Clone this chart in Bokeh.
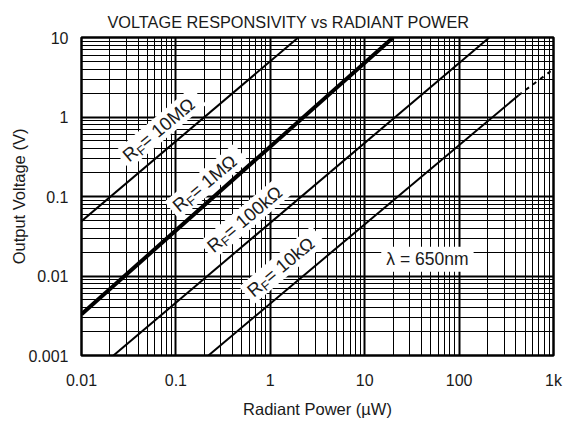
import math
from bokeh.plotting import figure
from bokeh.models import Range1d, FixedTicker, Label
from bokeh.embed import file_html
from bokeh.resources import INLINE

# ---- data ----
x_major = [0.01, 0.1, 1, 10, 100, 1000]
x_labels = ["0.01", "0.1", "1", "10", "100", "1k"]
y_major = [0.001, 0.01, 0.1, 1, 10]
y_labels = ["0.001", "0.01", "0.1", "1", "10"]

rf_names = ["10MΩ", "1MΩ", "100kΩ", "10kΩ"]
p_10M = [0.01, 1.98]
v_10M = [0.049, 10.0]
p_1M = [0.01, 20.0]
v_1M = [0.0033, 10.0]
p_100k = [0.0218, 209.0]
v_100k = [0.001, 10.0]
p_10k = [0.221, 427.0]
v_10k = [0.001, 1.88]
p_10k_ext = [427.0, 1000.0]
v_10k_ext = [1.88, 4.0]

# label anchor positions (data units)
lab_p = [0.0687, 0.211, 0.56, 1.35]
lab_v = [0.729, 0.154, 0.0547, 0.0137]
lam_p = 46.2
lam_v = 0.0162
lam_text = "λ = 650nm"

FONT = "Liberation Sans"
TXT = "#1a1a1a"
W, H = 569, 420
FL, FT, FR, FB = 81, 37, 553, 357   # frame edges in page pixels

p = figure(width=W, height=H, x_axis_type="log", y_axis_type="log",
           x_range=Range1d(0.01, 1000), y_range=Range1d(0.001, 10),
           output_backend="svg", toolbar_location=None,
           min_border_left=FL, min_border_right=W - FR, min_border_top=FT,
           min_border_bottom=H - FB,
           title="VOLTAGE RESPONSIVITY vs RADIANT POWER",
           x_axis_label="Radiant Power (µW)", y_axis_label="Output Voltage (V)")
p.background_fill_color = "white"
p.border_fill_color = "white"
p.outline_line_color = "black"
p.outline_line_width = 2.5

p.title.text_font = FONT
p.title.text_font_size = "16.3px"
p.title.text_font_style = "normal"
p.title.text_color = TXT
p.title.align = "left"
p.title.offset = 107 - FL
p.title.standoff = 14

x_minor = [m * d for d in x_major[:-1] for m in range(2, 10)]
y_minor = [m * d for d in y_major[:-1] for m in range(2, 10)]
xt = FixedTicker(ticks=x_major, minor_ticks=x_minor)
yt = FixedTicker(ticks=y_major, minor_ticks=y_minor)
p.xaxis.ticker = xt
p.yaxis.ticker = yt
p.xgrid.ticker = xt
p.ygrid.ticker = yt
for g in (p.xgrid, p.ygrid):
    g.grid_line_color = "black"
    g.grid_line_width = 2
    g.grid_line_alpha = 1
    g.minor_grid_line_color = "black"
    g.minor_grid_line_width = 1
    g.minor_grid_line_alpha = 1

p.xaxis.major_label_overrides = {v: s for v, s in zip(x_major, x_labels)}
p.yaxis.major_label_overrides = {v: s for v, s in zip(y_major, y_labels)}
for ax in (p.xaxis, p.yaxis):
    ax.axis_line_color = None
    ax.major_tick_line_color = None
    ax.minor_tick_line_color = None
    ax.major_tick_in = 0
    ax.major_tick_out = 0
    ax.minor_tick_in = 0
    ax.minor_tick_out = 0
    ax.major_label_text_font = FONT
    ax.major_label_text_font_size = "16px"
    ax.major_label_text_color = TXT
    ax.axis_label_text_font = FONT
    ax.axis_label_text_font_size = "16.5px"
    ax.axis_label_text_font_style = "normal"
    ax.axis_label_text_color = TXT
p.xaxis.major_label_standoff = 16
p.yaxis.major_label_standoff = 13
p.xaxis.axis_label_standoff = 8
p.yaxis.axis_label_standoff = -3

# ---- label backgrounds ----
theta = math.radians(40)
cw = {' ': .278, '=': .584, 'M': .833, 'k': .5, 'Ω': .768, 'R': .722, 'F': .611}
def tw(s, size):
    return sum(cw.get(c, .556) for c in s) * size

FS, FSUB = 18.5, 13
for name, lp, lv in zip(rf_names, lab_p, lab_v):
    rest = " = " + name
    wR, wF, wRest = tw("R", FS), tw("F", FSUB), tw(rest, FS)
    Wt = wR + wF + wRest
    p.rect(x=[lp], y=[lv], width=Wt + 8, height=23, angle=theta,
           width_units="screen", height_units="screen",
           fill_color="white", line_color=None)

lw_lam = tw("x = 650nm", 17.5) + 14
p.rect(x=[lam_p], y=[lam_v], width=lw_lam, height=25,
       width_units="screen", height_units="screen", fill_color="white", line_color=None)

# ---- lines ----
p.line(p_10M, v_10M, line_color="black", line_width=2)
p.line(p_1M, v_1M, line_color="black", line_width=4)
p.line(p_100k, v_100k, line_color="black", line_width=2)
p.line(p_10k, v_10k, line_color="black", line_width=2)
p.line(p_10k_ext, v_10k_ext, line_color="black", line_width=2, line_dash="4 5")

# ---- rotated labels with subscript ----
ux, uy = math.cos(theta), math.sin(theta)
nx, ny = math.sin(theta), -math.cos(theta)
for name, lp, lv in zip(rf_names, lab_p, lab_v):
    rest = " = " + name
    wR, wF, wRest = tw("R", FS), tw("F", FSUB), tw(rest, FS)
    Wt = wR + wF + wRest
    s0 = -Wt / 2
    pieces = [("R", FS, s0 + wR / 2, 0),
              ("F", FSUB, s0 + wR + wF / 2, 5),
              (rest, FS, s0 + wR + wF + wRest / 2, 0)]
    for t, fs, d, down in pieces:
        p.add_layout(Label(x=lp, y=lv, text=t, angle=theta,
                           x_offset=d * ux + down * nx, y_offset=d * uy + down * ny,
                           text_align="center", text_baseline="middle",
                           text_font=FONT, text_font_size=f"{fs}px", text_color=TXT))

p.add_layout(Label(x=lam_p, y=lam_v, text=lam_text, text_align="center",
                   text_baseline="middle", text_font=FONT, text_font_size="17.5px",
                   text_color=TXT))

open("out.html", "w").write(file_html(p, INLINE))
